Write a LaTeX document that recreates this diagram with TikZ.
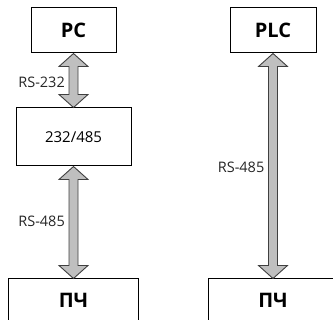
\documentclass[tikz,border=0pt]{standalone}
\usepackage{fontspec}
\setmainfont{Open Sans}
\usetikzlibrary{calc}
\tikzset{
  box/.style={draw=black, line width=1pt, fill=white, inner sep=0pt},
  arr/.style={draw=black!75, line width=0.9pt, fill=black!25, line join=miter},
  lbl/.style={font=\fontsize{14.5}{16}\selectfont, text=black!85, inner sep=0pt, anchor=east},
  big/.style={font=\fontsize{20}{22}\selectfont\bfseries},
}
\newcommand\biarrow[2]{%
  \draw[arr] (#1.south) -- ++(14.5,-13) -- ++(-10,0)
    -- ($(#2.north)+(4.5,13)$) -- ++(10,0) -- (#2.north)
    -- ++(-14.5,13) -- ++(10,0)
    -- ($(#1.south)+(-4.5,-13)$) -- ++(-10,0) -- cycle;}
\begin{document}
\begin{tikzpicture}[x=1pt,y=1pt]
\useasboundingbox (0,0) rectangle (333,320);
\clip (0,0) rectangle (333,320);
\node[box, big, minimum width=85pt, minimum height=45pt] (pc) at (73.5,289.5) {PC};
\node[box, font=\fontsize{15}{17}\selectfont, minimum width=115pt, minimum height=58pt] (conv) at (73.5,183) {232/485};
\node[box, big, minimum width=130pt, minimum height=42pt] (pchl) at (73.5,20) {ПЧ};
\node[box, big, minimum width=86pt, minimum height=45pt] (plc) at (273,289.5) {PLC};
\node[box, big, minimum width=130pt, minimum height=42pt] (pchr) at (273,20) {};
\node[big] at (pchr.center) {ПЧ};
\biarrow{pc}{conv}
\biarrow{conv}{pchl}
\biarrow{plc}{pchr}
\node[lbl] (l1) at (65,238) {RS-232};
\node[lbl] (l2) at (65,99) {RS-485};
\node[lbl] (l3) at (264.5,153) {RS-485};
\end{tikzpicture}
\end{document}
